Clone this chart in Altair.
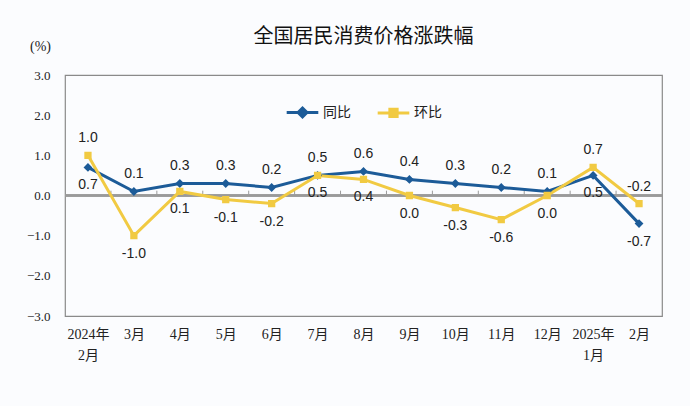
import altair as alt
import pandas as pd

months = ["2024年\n2月", "3月", "4月", "5月", "6月", "7月", "8月", "9月",
          "10月", "11月", "12月", "2025年\n1月", "2月"]
series_names = ["同比", "环比"]
yoy = [0.7, 0.1, 0.3, 0.3, 0.2, 0.5, 0.6, 0.4, 0.3, 0.2, 0.1, 0.5, -0.7]
mom = [1.0, -1.0, 0.1, -0.1, -0.2, 0.5, 0.4, 0.0, -0.3, -0.6, 0.0, 0.7, -0.2]
y_ticks = [-3.0, -2.0, -1.0, 0.0, 1.0, 2.0, 3.0]
title_text = "全国居民消费价格涨跌幅"
unit_text = "(%)"

BLUE = "#1c5b98"
YELLOW = "#f1ca42"

rows = []
for i, m in enumerate(months):
    a, b = yoy[i], mom[i]
    rows.append({"month": m, "idx": i, "series": series_names[0],
                 "value": a, "label": f"{a:.1f}", "pos": "above" if a >= b else "below"})
    rows.append({"month": m, "idx": i, "series": series_names[1],
                 "value": b, "label": f"{b:.1f}", "pos": "above" if b > a else "below"})
df = pd.DataFrame(rows)
df_m = pd.DataFrame({"month": months[1:]})

W, H = 597, 241

x_main = alt.X(
    "month:N", sort=months,
    scale=alt.Scale(type="point", padding=0.5),
    axis=alt.Axis(orient="bottom", title=None, labelAngle=0, ticks=False, domain=False,
                  labelExpr="split(datum.label, '\\n')",
                  labelFont="Liberation Serif, Noto Sans CJK SC", labelFontSize=14,
                  labelColor="#222222", labelPadding=11, labelLineHeight=21,
                  labelBaseline="top"),
)
y_main = alt.Y(
    "value:Q",
    scale=alt.Scale(domain=[-3, 3], nice=False, zero=False),
    axis=alt.Axis(values=y_ticks, format=".1f", grid=False, ticks=False, domain=False,
                  labelFont="Liberation Serif", labelFontSize=13, labelColor="#222222",
                  labelPadding=15,
                  title=unit_text, titleAngle=0, titleX=-25, titleY=-29,
                  titleAlign="center", titleBaseline="middle",
                  titleFont="Liberation Serif", titleFontSize=14, titleFontWeight="normal",
                  titleColor="#222222"),
)
color = alt.Color(
    "series:N",
    scale=alt.Scale(domain=series_names, range=[BLUE, YELLOW]),
    legend=alt.Legend(
        title=None, orient="none", legendX=220, legendY=20, direction="horizontal",
        symbolSize=1000, symbolStrokeWidth=3,
        labelFont="Noto Sans CJK SC", labelFontSize=14, labelColor="#222222",
        labelOffset=3, columnPadding=20,
    ),
)

# small ticks on the zero line, at the boundaries between months
zero_ticks = alt.Chart(df_m).mark_rule(color="#9a9a9a", strokeWidth=1).encode(
    x=alt.X("month:N", sort=months, bandPosition=0,
            scale=alt.Scale(type="band", domain=months, paddingInner=0, paddingOuter=0),
            axis=None),
    y=alt.datum(0),
    y2=alt.datum(0.12),
)

zero_line = alt.Chart(df_m).mark_rule(color="#9a9a9a", strokeWidth=1.5).encode(
    y=alt.datum(0)
)

lines = alt.Chart(df).mark_line(strokeWidth=3).encode(
    x=x_main, y=y_main, color=color, order=alt.Order("idx:Q")
)

points = alt.Chart(df).mark_point(filled=True, size=1000, opacity=1).encode(
    x=x_main, y=y_main,
    color=alt.Color("series:N", scale=alt.Scale(domain=series_names, range=[BLUE, YELLOW]),
                    legend=None),
    shape=alt.Shape("series:N", scale=alt.Scale(
        domain=series_names,
        range=["M-1,0L1,0M0,-0.28L0.28,0L0,0.28L-0.28,0Z",
               "M-1,0L1,0M-0.23,-0.23L0.23,-0.23L0.23,0.23L-0.23,0.23Z"]),
        legend=None),
)

text_above = alt.Chart(df).transform_filter("datum.pos == 'above'").mark_text(
    dy=-17, font="Liberation Sans", fontSize=14, color="#222222", baseline="middle"
).encode(x=x_main, y=y_main, text="label:N")

text_below = alt.Chart(df).transform_filter("datum.pos == 'below'").mark_text(
    dy=18, font="Liberation Sans", fontSize=14, color="#222222", baseline="middle"
).encode(x=x_main, y=y_main, text="label:N")

main = alt.layer(zero_line, lines, points, text_above, text_below)

chart = alt.layer(zero_ticks, main).resolve_scale(x="independent").properties(
    width=W, height=H,
    title=alt.TitleParams(title_text, font="Noto Sans CJK SC", fontSize=20,
                          fontWeight="normal", color="#111111", offset=-8),
    autosize=alt.AutoSizeParams(type="none"),
    padding={"left": 65, "top": 75, "right": 28, "bottom": 90},
    background="#fbfcfe",
).configure_view(stroke="#8a8a8a", strokeWidth=1.2)

chart.save("out.html", embed_options={"renderer": "svg", "actions": False})
